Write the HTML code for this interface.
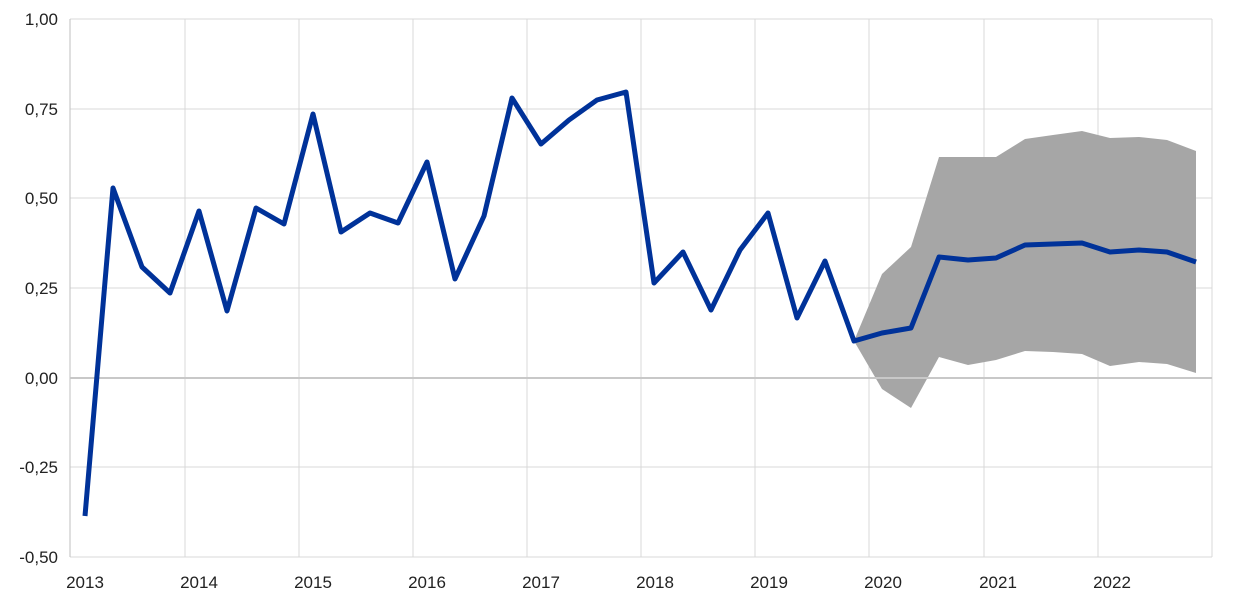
<!DOCTYPE html>
<html><head><meta charset="utf-8"><style>
body{margin:0;background:#fff;}
svg text{font-family:"Liberation Sans",Arial,sans-serif;font-size:17px;fill:#222;}
</style></head><body>
<svg width="1240" height="601" xmlns="http://www.w3.org/2000/svg">
<g stroke="#d9d9d9" stroke-width="1">
<line x1="70" y1="19" x2="1212" y2="19"/>
<line x1="70" y1="109" x2="1212" y2="109"/>
<line x1="70" y1="198" x2="1212" y2="198"/>
<line x1="70" y1="288" x2="1212" y2="288"/>
<line x1="70" y1="467" x2="1212" y2="467"/>
<line x1="70" y1="557" x2="1212" y2="557"/>
<line x1="185" y1="19" x2="185" y2="557"/>
<line x1="299" y1="19" x2="299" y2="557"/>
<line x1="413" y1="19" x2="413" y2="557"/>
<line x1="527" y1="19" x2="527" y2="557"/>
<line x1="641" y1="19" x2="641" y2="557"/>
<line x1="755" y1="19" x2="755" y2="557"/>
<line x1="869" y1="19" x2="869" y2="557"/>
<line x1="984" y1="19" x2="984" y2="557"/>
<line x1="1098" y1="19" x2="1098" y2="557"/>
<line x1="1212" y1="19" x2="1212" y2="557"/>
</g>
<line x1="70" y1="19" x2="70" y2="557" stroke="#bfbfbf" stroke-width="1"/>
<polygon fill="#a6a6a6" points="854,341 882,274 911,247 939,157 968,157 996,157 1025,139 1053,135 1082,131 1110,138 1139,137 1167,140 1196,151 1196,373 1167,364 1139,362 1110,366 1082,354 1053,352 1025,351 996,360 968,365 939,357 911,408 882,389"/>
<line x1="70" y1="378" x2="1212" y2="378" stroke="#c8c8c8" stroke-width="2"/>
<polyline fill="none" stroke="#003299" stroke-width="5" stroke-linejoin="round" points="85,516 113,188 142,267 170,293 199,211 227,311 256,208 284,224 313,114 341,232 370,213 398,223 427,162 455,279 484,216 512,98 541,144 569,120 597,100 626,92 654,283 683,252 711,310 740,250 768,213 797,318 825,261 854,341 882,333 911,328 939,257 968,260 996,258 1025,245 1053,244 1082,243 1110,252 1139,250 1167,252 1196,262"/>
<g text-anchor="end">
<text x="58" y="25">1,00</text>
<text x="58" y="115">0,75</text>
<text x="58" y="204">0,50</text>
<text x="58" y="294">0,25</text>
<text x="58" y="384">0,00</text>
<text x="58" y="473">-0,25</text>
<text x="58" y="563">-0,50</text>
</g>
<g text-anchor="middle">
<text x="85" y="588">2013</text>
<text x="199" y="588">2014</text>
<text x="313" y="588">2015</text>
<text x="427" y="588">2016</text>
<text x="541" y="588">2017</text>
<text x="655" y="588">2018</text>
<text x="769" y="588">2019</text>
<text x="883" y="588">2020</text>
<text x="998" y="588">2021</text>
<text x="1112" y="588">2022</text>
</g>
</svg>
</body></html>
